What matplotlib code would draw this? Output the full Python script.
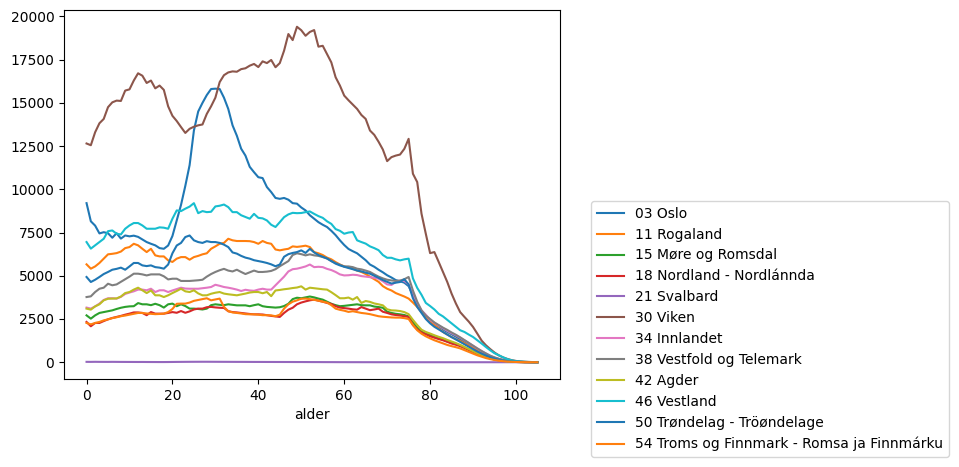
import matplotlib
matplotlib.use("Agg")
import matplotlib.pyplot as plt
import numpy as np

# alder 0..105
alder = list(range(106))

oslo = [
    9200, 8150, 7900, 7450, 7520, 7460, 7200, 7460, 7150, 7330,
    7280, 7320, 7250, 7100, 6950, 6850, 6760, 6600, 6560, 6750,
    7300, 8200, 9100, 10200, 11400, 13400, 14500, 15000, 15450, 15800,
    15820, 15800, 15300, 14650, 13700, 13100, 12350, 11950, 11300, 10990,
    10700, 10650, 10130, 9840, 9500, 9450, 9500, 9400, 9200, 9170,
    8950, 8780, 8500, 8300, 8100, 7950, 7820, 7600, 7350, 7050,
    6780, 6550, 6420, 6300, 6100, 5900, 5650, 5520, 5350, 5200,
    5030, 4900, 4750, 4680, 4600, 4400, 3900, 3350, 2950, 2650,
    2380, 2200, 2060, 1900, 1750, 1620, 1480, 1330, 1180, 1020,
    870, 720, 580, 450, 340, 250, 180, 120, 80, 50,
    30, 20, 10, 6, 3, 2]

rogaland = [
    5660, 5410, 5540, 5740, 5990, 6240, 6270, 6310, 6400, 6600,
    6660, 6850, 6760, 6560, 6370, 6560, 6180, 6120, 6120, 5890,
    5800, 5990, 6080, 6080, 5930, 6080, 6150, 6240, 6300, 6560,
    6700, 6850, 6900, 7140, 7050, 7010, 7010, 7010, 7000, 6950,
    6850, 7010, 6900, 6850, 6520, 6470, 6520, 6560, 6700, 6670,
    6700, 6740, 6660, 6370, 6300, 6200, 6050, 5950, 5790, 5650,
    5540, 5480, 5410, 5300, 5220, 5100, 4950, 4800, 4650, 4400,
    4250, 4150, 4000, 3900, 3800, 3680, 3450, 3200, 2900, 2620,
    2350, 2150, 1950, 1750, 1600, 1460, 1330, 1230, 1100, 960,
    820, 680, 540, 420, 320, 230, 160, 110, 70, 45,
    28, 16, 9, 5, 3, 2]

more_romsdal = [
    2710, 2520, 2710, 2850, 2900, 2950, 3000, 3080, 3150, 3200,
    3230, 3240, 3420, 3350, 3350, 3300, 3380, 3300, 3160, 3350,
    3390, 3240, 3350, 3250, 3100, 3100, 3080, 3050, 3100, 3300,
    3350, 3320, 3300, 3350, 3320, 3290, 3290, 3290, 3240, 3300,
    3350, 3240, 3200, 3180, 3160, 3180, 3250, 3380, 3650, 3730,
    3700, 3750, 3800, 3750, 3680, 3620, 3500, 3380, 3300, 3240,
    3260, 3290, 3320, 3350, 3300, 3290, 3290, 3220, 3190, 3150,
    2920, 2850, 2800, 2770, 2730, 2650, 2300, 2000, 1780, 1650,
    1570, 1460, 1380, 1300, 1200, 1120, 1060, 980, 860, 740,
    620, 500, 400, 300, 220, 160, 110, 75, 45, 28,
    16, 9, 5, 3, 2, 1]

nordland = [
    2330, 2080, 2270, 2270, 2380, 2480, 2560, 2620, 2680, 2750,
    2810, 2880, 2880, 2850, 2720, 2900, 2810, 2810, 2810, 2850,
    2900, 2860, 2960, 2860, 2940, 3050, 3100, 3100, 3180, 3200,
    3170, 3150, 3140, 2950, 2900, 2880, 2850, 2820, 2790, 2770,
    2770, 2760, 2720, 2680, 2650, 2620, 2850, 3040, 3150, 3350,
    3450, 3520, 3580, 3620, 3560, 3500, 3430, 3370, 3240, 3160,
    3130, 3100, 3060, 3040, 3190, 3100, 3010, 3050, 3100, 2920,
    2850, 2770, 2730, 2700, 2660, 2620, 2150, 1900, 1720, 1620,
    1500, 1420, 1340, 1270, 1180, 1080, 1010, 930, 820, 710,
    600, 490, 390, 300, 220, 160, 110, 75, 45, 28,
    16, 9, 5, 3, 2, 1]

svalbard = [
    22, 20, 24, 21, 20, 19, 22, 20, 18, 17,
    16, 15, 14, 15, 13, 12, 11, 10, 10, 12,
    15, 18, 20, 22, 24, 25, 26, 27, 27, 26,
    25, 24, 23, 22, 21, 20, 20, 19, 18, 17,
    17, 16, 15, 15, 14, 14, 13, 13, 12, 11,
    11, 10, 9, 8, 8, 7, 6, 6, 5, 4,
    4, 3, 3, 3, 2, 2, 2, 1, 1, 1,
    1, 1, 1, 0, 0, 0, 0, 0, 0, 0,
    0, 0, 0, 0, 0, 0, 0, 0, 0, 0,
    0, 0, 0, 0, 0, 0, 0, 0, 0, 0,
    0, 0, 0, 0, 0, 0]

viken = [
    12650, 12550, 13300, 13820, 14070, 14750, 15030, 15130, 15110, 15710,
    15780, 16290, 16710, 16570, 16150, 16290, 15840, 16000, 15750, 14800,
    14250, 13950, 13600, 13260, 13500, 13620, 13700, 13750, 14360, 14800,
    15300, 16200, 16600, 16760, 16820, 16800, 16950, 17000, 17150, 17250,
    17070, 17400, 17300, 17480, 17060, 17300, 18020, 18980, 18630, 19400,
    19200, 18880, 19100, 19210, 18250, 18300, 17820, 17340, 16480, 16000,
    15420, 15150, 14900, 14650, 14300, 14070, 13400, 13150, 12750, 12300,
    11630, 11860, 11950, 12010, 12340, 12920, 10900, 10420, 8590, 7430,
    6310, 6370, 5800, 5220, 4640, 3970, 3400, 2900, 2620, 2350,
    2040, 1650, 1250, 980, 760, 560, 400, 280, 190, 120,
    75, 45, 30, 15, 8, 12]

innlandet = [
    3160, 3100, 3230, 3390, 3600, 3700, 3700, 3680, 3780, 3950,
    4030, 4100, 4200, 4200, 4160, 4250, 4060, 4160, 4160, 4060,
    4150, 4230, 4310, 4260, 4250, 4250, 4250, 4280, 4310, 4350,
    4480, 4420, 4350, 4310, 4260, 4200, 4120, 4190, 4150, 4130,
    4200, 4250, 4200, 4200, 4450, 4700, 4950, 5250, 5380, 5410,
    5470, 5540, 5650, 5500, 5520, 5500, 5400, 5330, 5220, 5080,
    5020, 5030, 5060, 5040, 4980, 4950, 4920, 4880, 4830, 4680,
    4500, 4470, 4640, 4720, 4700, 4500, 3850, 3400, 3000, 2750,
    2450, 2280, 2120, 1970, 1820, 1680, 1560, 1420, 1270, 1110,
    950, 790, 640, 500, 370, 270, 190, 125, 80, 50,
    30, 18, 10, 6, 3, 2]

vestfold_telemark = [
    3770, 3810, 4060, 4250, 4310, 4540, 4450, 4500, 4650, 4800,
    4950, 5120, 5120, 5080, 5020, 5080, 5080, 5080, 4970, 4790,
    4830, 4830, 4700, 4700, 4700, 4720, 4740, 4770, 4950, 5100,
    5220, 5320, 5400, 5300, 5250, 5350, 5220, 5100, 5200, 5300,
    5220, 5220, 5240, 5280, 5380, 5550, 5700, 5850, 6200, 6300,
    6250, 6180, 6240, 6180, 6150, 6080, 6000, 5850, 5740, 5640,
    5540, 5540, 5500, 5410, 5370, 5300, 5220, 5080, 4950, 4850,
    4770, 4730, 4700, 4720, 4800, 4930, 4150, 3500, 3000, 2700,
    2500, 2300, 2150, 2000, 1870, 1720, 1590, 1440, 1280, 1120,
    960, 800, 650, 510, 380, 280, 200, 130, 85, 55,
    35, 20, 12, 7, 4, 2]

agder = [
    3100, 3040, 3230, 3350, 3580, 3670, 3680, 3690, 3800, 4000,
    4060, 4200, 4310, 4160, 4000, 4150, 3870, 3870, 3770, 3870,
    4000, 4120, 4250, 4100, 4060, 4160, 3980, 3870, 3870, 3960,
    4020, 4060, 3970, 3930, 3900, 3870, 3920, 3970, 4030, 4060,
    4060, 3990, 4060, 3820, 4150, 4180, 4220, 4250, 4290, 4320,
    4390, 4200, 4310, 4280, 4250, 4220, 4200, 4050, 3880, 3700,
    3700, 3740, 3620, 3770, 3430, 3540, 3490, 3400, 3350, 3290,
    3060, 3000, 2990, 2960, 2900, 2780, 2450, 2150, 1880, 1750,
    1660, 1560, 1470, 1390, 1290, 1200, 1110, 1000, 880, 760,
    640, 520, 410, 310, 230, 170, 120, 80, 50, 30,
    18, 10, 6, 3, 2, 1]

vestland = [
    6950, 6570, 6760, 6950, 7140, 7580, 7620, 7430, 7390, 7720,
    7910, 8050, 8050, 7910, 7720, 7720, 7720, 7800, 7780, 7720,
    8300, 8780, 8740, 8880, 9000, 9200, 8620, 8740, 8680, 8700,
    9010, 9050, 9120, 8970, 8680, 8680, 8500, 8400, 8300, 8580,
    8350, 8320, 8200, 7950, 7820, 8100, 8390, 8550, 8640, 8620,
    8630, 8680, 8720, 8580, 8450, 8350, 8150, 8000, 7700, 7600,
    7430, 7500, 7530, 7050, 6950, 6860, 6700, 6600, 6480, 6200,
    6040, 6040, 5950, 5890, 5950, 5990, 4850, 4300, 3900, 3430,
    3250, 3050, 2800, 2650, 2450, 2250, 2050, 1850, 1750, 1600,
    1460, 1270, 1080, 880, 690, 520, 400, 280, 180, 110,
    60, 40, 25, 15, 8, 5]

trondelag = [
    4930, 4640, 4770, 4930, 5100, 5220, 5350, 5400, 5470, 5350,
    5540, 5740, 5740, 5600, 5560, 5600, 5500, 5470, 5410, 5650,
    6300, 6750, 6900, 7240, 7330, 7050, 6950, 6900, 7000, 6950,
    6950, 6900, 6800, 6660, 6350, 6280, 6150, 6050, 5990, 5900,
    5850, 5800, 5740, 5660, 5550, 5650, 6100, 6250, 6320, 6370,
    6470, 6320, 6560, 6350, 6200, 6100, 6000, 5850, 5700, 5600,
    5520, 5450, 5380, 5300, 5250, 5180, 5120, 5000, 4880, 4750,
    4650, 4550, 4600, 4640, 4800, 4500, 3700, 3200, 2850, 2500,
    2250, 2050, 1900, 1750, 1600, 1450, 1320, 1180, 1040, 900,
    760, 620, 500, 390, 290, 210, 150, 100, 65, 40,
    25, 15, 8, 5, 2, 1]

troms_finnmark = [
    2270, 2190, 2270, 2330, 2420, 2480, 2550, 2600, 2660, 2700,
    2750, 2800, 2850, 2850, 2820, 2800, 2780, 2790, 2810, 2900,
    3080, 3380, 3390, 3390, 3450, 3550, 3600, 3650, 3700, 3580,
    3630, 3680, 3200, 2950, 2880, 2850, 2820, 2780, 2770, 2770,
    2750, 2720, 2720, 2710, 2660, 2750, 3100, 3350, 3500, 3580,
    3670, 3680, 3650, 3610, 3560, 3500, 3450, 3300, 3100, 3030,
    2980, 2910, 2950, 2900, 2850, 2820, 2780, 2720, 2660, 2630,
    2610, 2590, 2580, 2580, 2550, 2500, 2150, 1850, 1650, 1500,
    1380, 1270, 1180, 1090, 1000, 930, 870, 800, 700, 600,
    500, 400, 320, 240, 180, 130, 90, 60, 38, 24,
    14, 8, 5, 3, 2, 1]

series = [
    ("03 Oslo", oslo),
    ("11 Rogaland", rogaland),
    ("15 Møre og Romsdal", more_romsdal),
    ("18 Nordland - Nordlánnda", nordland),
    ("21 Svalbard", svalbard),
    ("30 Viken", viken),
    ("34 Innlandet", innlandet),
    ("38 Vestfold og Telemark", vestfold_telemark),
    ("42 Agder", agder),
    ("46 Vestland", vestland),
    ("50 Trøndelag - Tröøndelage", trondelag),
    ("54 Troms og Finnmark - Romsa ja Finnmárku", troms_finnmark),
]

W, H = 959, 467
fig = plt.figure(figsize=(W / 100, H / 100), dpi=100)
ax = fig.add_axes([64 / W, (H - 379) / H, 496 / W, 369 / H])

for name, vals in series:
    ax.plot(alder, vals, label=name)

ax.set_xlabel("alder")
ax.legend(loc="lower left", bbox_to_anchor=(591 / W, 10 / H),
          bbox_transform=fig.transFigure, borderaxespad=0)

fig.savefig("out.png", dpi=100)
